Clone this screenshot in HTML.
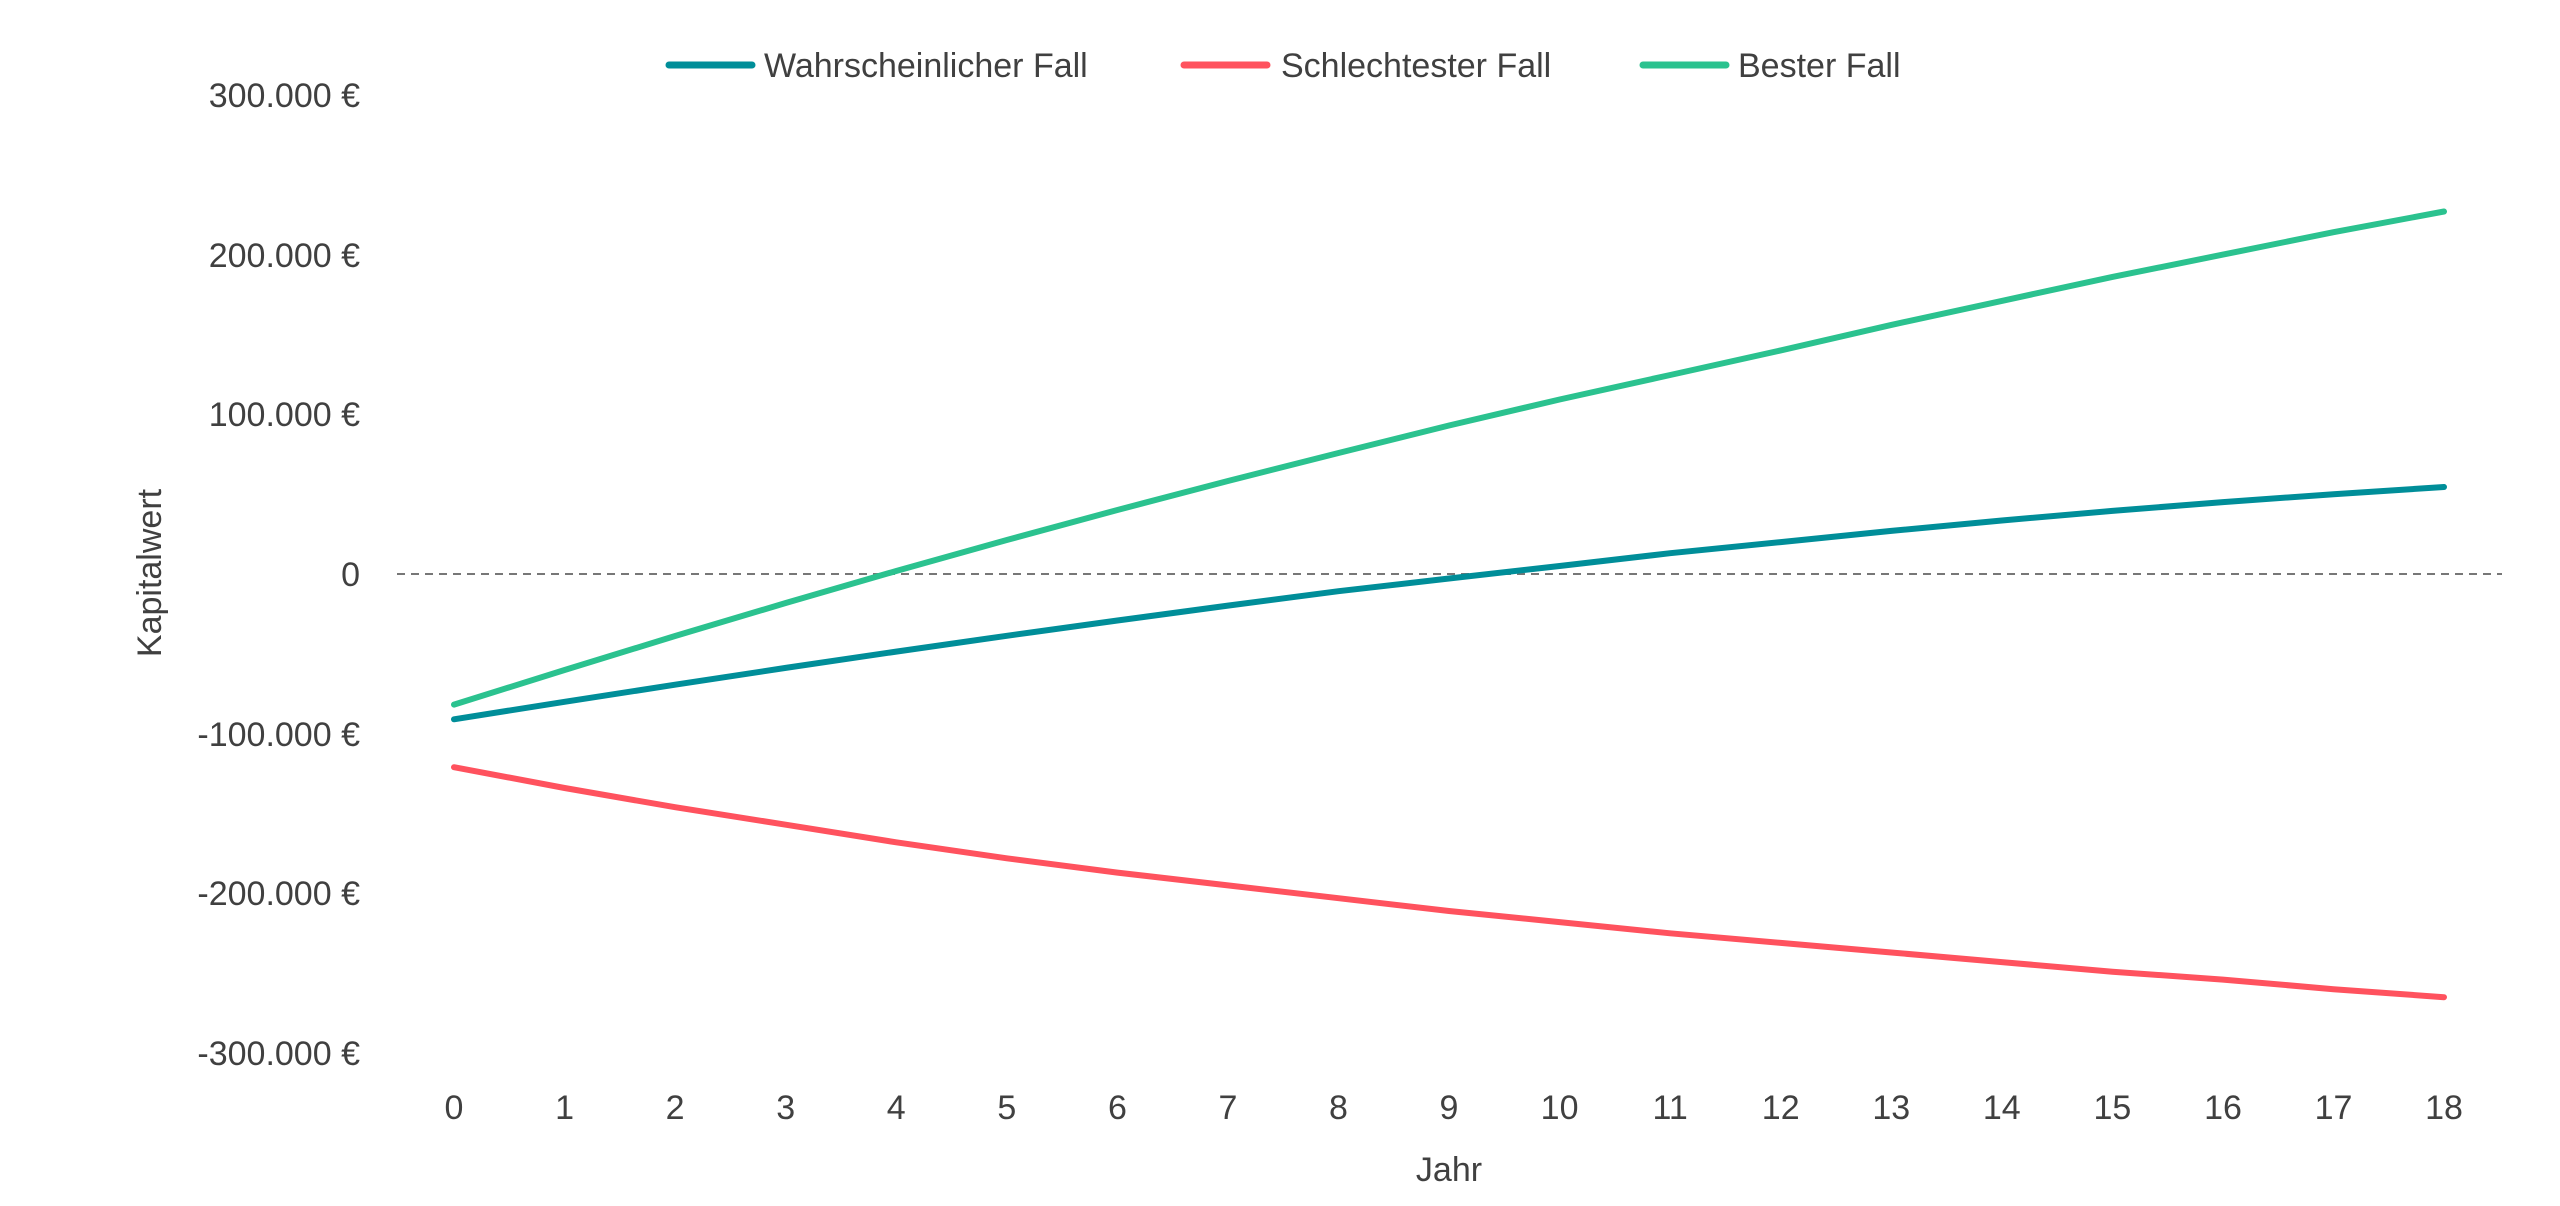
<!DOCTYPE html>
<html><head><meta charset="utf-8"><style>
html,body{margin:0;padding:0;background:#fff;}
svg{display:block;}
text{font-family:"Liberation Sans",sans-serif;fill:#404040;}
</style></head><body>
<svg width="2560" height="1206" viewBox="0 0 2560 1206" xmlns="http://www.w3.org/2000/svg">
<rect width="2560" height="1206" fill="#fff"/>
<g font-size="34" text-anchor="end">
<text x="360" y="107">300.000 €</text>
<text x="360" y="267">200.000 €</text>
<text x="360" y="426">100.000 €</text>
<text x="360" y="586">0</text>
<text x="360" y="746">-100.000 €</text>
<text x="360" y="905">-200.000 €</text>
<text x="360" y="1065">-300.000 €</text>
</g>
<line x1="397" y1="574" x2="2502" y2="574" stroke="#777" stroke-width="2" stroke-dasharray="8,6"/>
<g font-size="34" text-anchor="middle">
<text x="454" y="1119">0</text><text x="564.6" y="1119">1</text><text x="675.1" y="1119">2</text><text x="785.7" y="1119">3</text><text x="896.2" y="1119">4</text><text x="1006.8" y="1119">5</text><text x="1117.4" y="1119">6</text><text x="1227.9" y="1119">7</text><text x="1338.5" y="1119">8</text><text x="1449" y="1119">9</text><text x="1559.6" y="1119">10</text><text x="1670.2" y="1119">11</text><text x="1780.7" y="1119">12</text><text x="1891.3" y="1119">13</text><text x="2001.8" y="1119">14</text><text x="2112.4" y="1119">15</text><text x="2223" y="1119">16</text><text x="2333.5" y="1119">17</text><text x="2444" y="1119">18</text>
</g>
<text x="1449" y="1181" font-size="34" text-anchor="middle">Jahr</text>
<text transform="translate(161,573) rotate(-90)" font-size="34" text-anchor="middle">Kapitalwert</text>
<g fill="none" stroke-width="6" stroke-linecap="round" stroke-linejoin="round">
<polyline stroke="#FF525E" points="454,767.2 564.6,788 675.1,807.2 785.7,824.7 896.2,842.3 1006.8,858.3 1117.4,872.6 1227.9,885.4 1338.5,898.2 1449,911 1559.6,922.1 1670.2,933.3 1780.7,942.9 1891.3,952.5 2001.8,962.1 2112.4,971.7 2223,979.6 2333.5,989.2 2444,997.2"/>
<polyline stroke="#2BC28F" points="454,704.6 564.6,670 675.1,636 785.7,603 896.2,571 1006.8,540 1117.4,510 1227.9,481 1338.5,453 1449,425.5 1559.6,399.5 1670.2,375 1780.7,350.4 1891.3,324.9 2001.8,300.9 2112.4,276.9 2223,254.6 2333.5,232.2 2444,211.5"/>
<polyline stroke="#008E99" points="454,719.3 564.6,701.8 675.1,684.7 785.7,667.9 896.2,651.6 1006.8,635.8 1117.4,620.5 1227.9,605.6 1338.5,591.2 1449,578.5 1559.6,566 1670.2,553.2 1780.7,542.1 1891.3,530.9 2001.8,520.5 2112.4,510.9 2223,502.1 2333.5,494.2 2444,487"/>
</g>
<g stroke-width="7" stroke-linecap="round">
<line x1="669" y1="65" x2="752" y2="65" stroke="#008E99"/>
<line x1="1184" y1="65" x2="1267" y2="65" stroke="#FF525E"/>
<line x1="1643" y1="65" x2="1726" y2="65" stroke="#2BC28F"/>
</g>
<g font-size="34">
<text x="764" y="77">Wahrscheinlicher Fall</text>
<text x="1281" y="77">Schlechtester Fall</text>
<text x="1738" y="77">Bester Fall</text>
</g>
</svg>
</body></html>
